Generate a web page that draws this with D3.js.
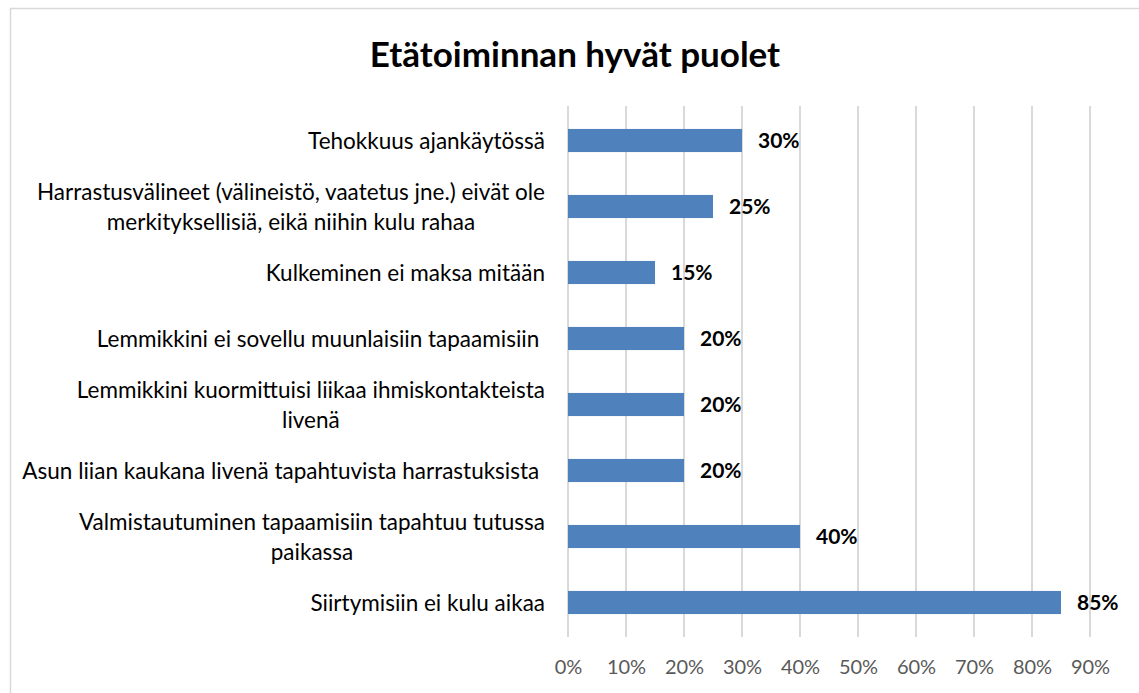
<!DOCTYPE html>
<html><head><meta charset="utf-8">
<script src="https://cdn.jsdelivr.net/npm/d3@7"></script>
<style>body{margin:0;background:#fff}svg{display:block}</style>
</head><body>
<svg id="c" width="1139" height="693"></svg>
<script>
const title = "Etätoiminnan hyvät puolet";
const categories = [
  ["Tehokkuus ajankäytössä"],
  ["Harrastusvälineet (välineistö, vaatetus jne.) eivät ole", "merkityksellisiä, eikä niihin kulu rahaa"],
  ["Kulkeminen ei maksa mitään"],
  ["Lemmikkini ei sovellu muunlaisiin tapaamisiin "],
  ["Lemmikkini kuormittuisi liikaa ihmiskontakteista", "livenä"],
  ["Asun liian kaukana livenä tapahtuvista harrastuksista "],
  ["Valmistautuminen tapaamisiin tapahtuu tutussa", "paikassa"],
  ["Siirtymisiin ei kulu aikaa"]
];
const values = [0.30, 0.25, 0.15, 0.20, 0.20, 0.20, 0.40, 0.85];
const ticks = [0,0.1,0.2,0.3,0.4,0.5,0.6,0.7,0.8,0.9];

const svg = d3.select("#c");
const font = "Lato, 'Open Sans', sans-serif";
svg.append("rect").attr("x",10.5).attr("y",8.5).attr("width",1200).attr("height",800)
  .attr("fill","#fff").attr("stroke","#d9d9d9").attr("stroke-width",1.5);

svg.append("text").attr("x",575).attr("y",67).attr("text-anchor","middle")
  .attr("font-family",font).attr("font-weight","bold").attr("font-size",35).attr("fill","#000").text(title);

const x = d3.scaleLinear().domain([0,0.9]).range([568,1090]);
const y = d3.scaleBand().domain(d3.range(categories.length)).range([107.5,635.5]).paddingInner(0.65).paddingOuter(0.325);

svg.append("g").selectAll("line").data(ticks).join("line")
  .attr("x1",d=>x(d)).attr("x2",d=>x(d)).attr("y1",106).attr("y2",637)
  .attr("stroke","#d9d9d9").attr("stroke-width",2);

svg.append("g").selectAll("rect").data(values).join("rect")
  .attr("x",x(0)).attr("y",(d,i)=>y(i)).attr("width",d=>x(d)-x(0)).attr("height",y.bandwidth())
  .attr("fill","#4f81bd");

svg.append("g").selectAll("text").data(values).join("text")
  .attr("x",d=>x(d)+16).attr("y",(d,i)=>y(i)+y.bandwidth()/2).attr("dy","0.36em")
  .attr("font-family",font).attr("font-weight","bold").attr("font-size",21).attr("fill","#000")
  .text(d=>d3.format(".0%")(d));

const xAxis = d3.axisBottom(x).tickValues(ticks).tickFormat(d3.format(".0%")).tickSize(0).tickPadding(0);
const ax = svg.append("g").attr("transform","translate(0,667)").call(xAxis);
ax.select(".domain").remove();
ax.selectAll("text").attr("font-family",font).attr("font-size",20).attr("fill","#595959").attr("dy","0.36em");

const lh = 30;
const lab = svg.append("g");
categories.forEach((lines,i)=>{
  const cy = y(i)+y.bandwidth()/2;
  const g = lab.append("g");
  const t = g.append("text").attr("font-family",font).attr("font-size",22.5).attr("fill","#000").attr("text-anchor","middle").attr("xml:space","preserve");
  lines.forEach((l,j)=>{
    t.append("tspan").attr("x",0).attr("y",cy+(j-(lines.length-1)/2)*lh).attr("dy","0.36em").text(l);
  });
  const w = t.node().getBBox().width;
  g.attr("transform",`translate(${545-w/2},0)`);
});
</script>
</body></html>
